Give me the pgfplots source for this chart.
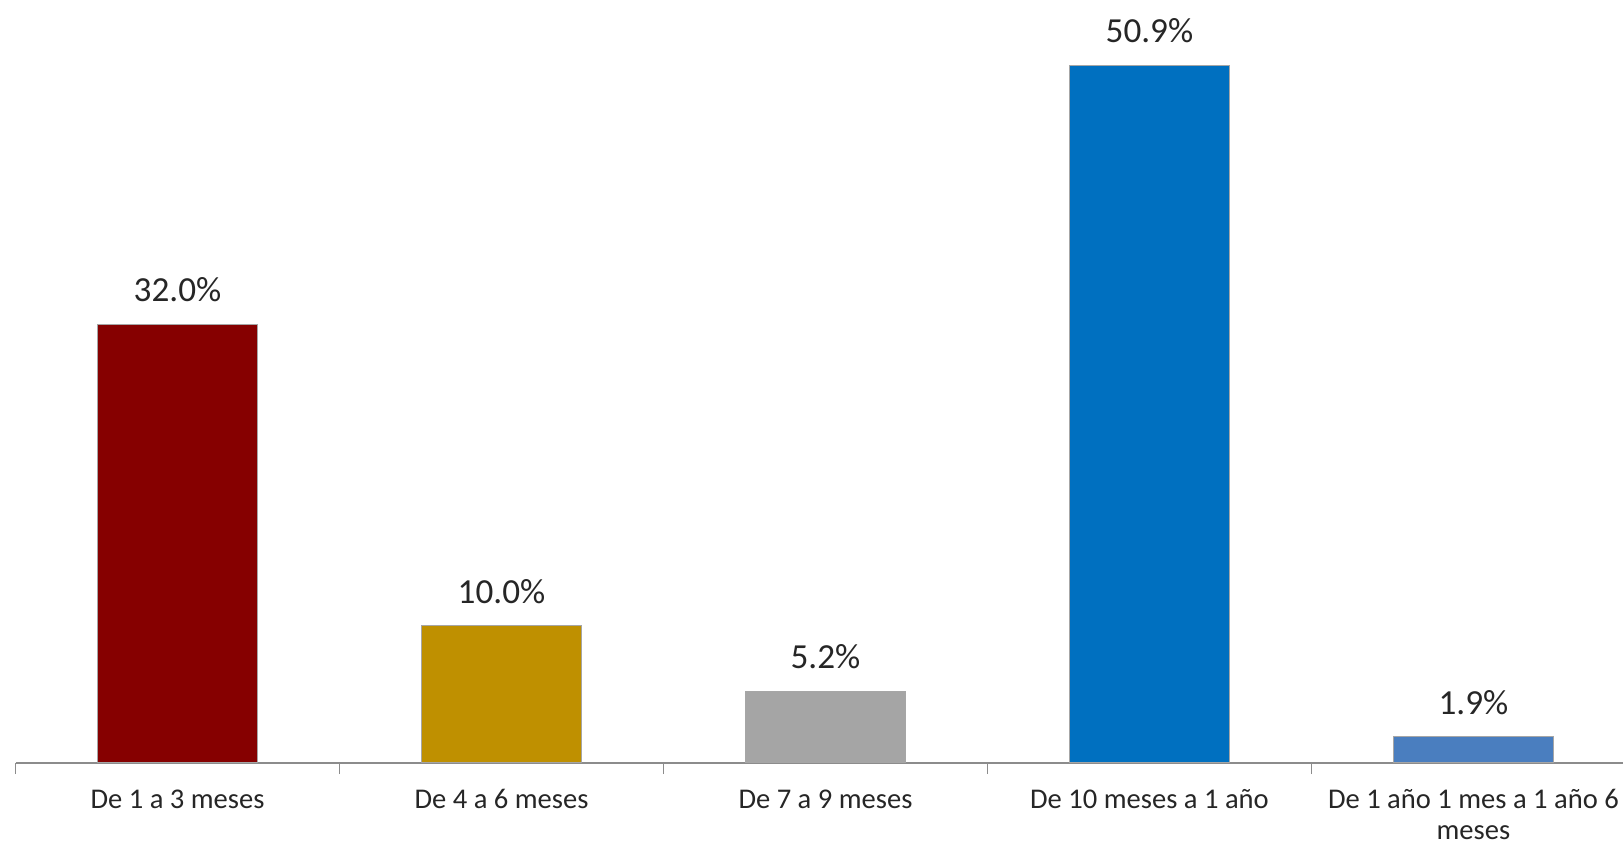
\documentclass[border=0pt]{standalone}
\usepackage{fontspec}
\setmainfont{Carlito}
\usepackage{pgfplots}
\pgfplotsset{compat=1.18}
\definecolor{c1}{HTML}{860000}
\definecolor{c2}{HTML}{BF9000}
\definecolor{c3}{HTML}{A5A5A5}
\definecolor{c4}{HTML}{0070C0}
\definecolor{c5}{HTML}{4A7EBF}
\definecolor{txt}{HTML}{262626}
\definecolor{axc}{HTML}{8C8C8C}
\begin{document}
\begin{tikzpicture}
\useasboundingbox (0,0) rectangle (784pt,408pt);
\begin{axis}[
  at={(7.5pt,39.5pt)}, anchor=south west,
  scale only axis, width=776.5pt, height=368.5pt,
  xmin=-0.5, xmax=4.4617, ymin=0, ymax=55.66,
  /pgf/number format/assume math mode=true,
  axis y line=none,
  axis x line*=bottom,
  x axis line style={axc, line width=0.8pt, -},
  xtick={0,1,2,3,4},
  xticklabels={De 1 a 3 meses, De 4 a 6 meses, De 7 a 9 meses, De 10 meses a 1 año, {\begin{tabular}[t]{@{}c@{}}De 1 año 1 mes a 1 año 6\\meses\end{tabular}}},
  major tick length=0pt,
  xticklabel style={font=\fontsize{13.8}{15}\selectfont, text=txt, anchor=base, yshift=-22pt},
  extra x ticks={-0.5,0.5,1.5,2.5,3.5},
  extra x tick labels={},
  extra x tick style={major tick length=5.5pt, tick align=outside, tick style={axc, line width=0.8pt}},
  ybar, bar width=77.5pt, bar shift=0pt,
  nodes near coords={\pgfmathprintnumber[fixed, fixed zerofill, precision=1]{\pgfplotspointmeta}\%},
  nodes near coords style={font=\fontsize{17}{20}\selectfont, text=txt, anchor=base, yshift=11pt},
  clip=false,
]
\addplot[fill=c1, draw=gray!70, line width=0.4pt] coordinates {(0,32.0)};
\addplot[fill=c2, draw=gray!70, line width=0.4pt] coordinates {(1,10.0)};
\addplot[fill=c3, draw=gray!70, line width=0.4pt] coordinates {(2,5.2)};
\addplot[fill=c4, draw=gray!70, line width=0.4pt] coordinates {(3,50.9)};
\addplot[fill=c5, draw=gray!70, line width=0.4pt] coordinates {(4,1.9)};
\end{axis}
\end{tikzpicture}
\end{document}
